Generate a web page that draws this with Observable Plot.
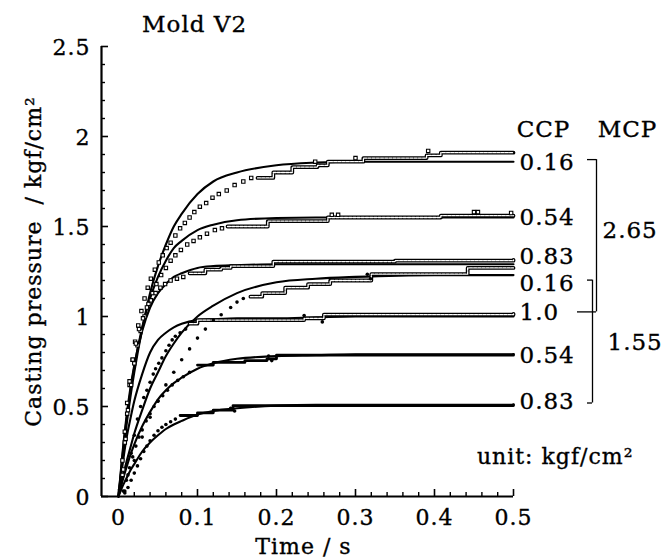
<!DOCTYPE html>
<html><head><meta charset="utf-8">
<script src="https://cdn.jsdelivr.net/npm/d3@7"></script>
<script src="https://cdn.jsdelivr.net/npm/@observablehq/plot@0.6"></script>
<style>
html,body{margin:0;padding:0;background:#fff;}
svg{display:block;}
svg text{letter-spacing:1px;stroke:black;stroke-width:0.35px;}
</style>
</head><body><div id="chart"></div>
<script>
// ---- axis ticks ----
const xMajor = [0, 0.1, 0.2, 0.3, 0.4, 0.5];
const xLabels = ["0", "0.1", "0.2", "0.3", "0.4", "0.5"];
const xMinor = [0.02,0.04,0.06,0.08,0.12,0.14,0.16,0.18,0.22,0.24,0.26,0.28,0.32,0.34,0.36,0.38,0.42,0.44,0.46,0.48];
const yMajor = [0, 0.5, 1, 1.5, 2, 2.5];
const yLabels = ["0", "0.5", "1", "1.5", "2", "2.5"];
const yMinor = [0.1,0.2,0.3,0.4,0.6,0.7,0.8,0.9,1.1,1.2,1.3,1.4,1.6,1.7,1.8,1.9,2.1,2.2,2.3,2.4];

// ---- calculated curves (solid lines) ----
const fitTimes = [0, 0.005, 0.01, 0.015, 0.02, 0.03, 0.04, 0.05, 0.06, 0.07, 0.08, 0.1, 0.12, 0.15, 0.2, 0.25, 0.3, 0.4, 0.5];
const fitA = [0, 0.20, 0.39, 0.55, 0.69, 0.93, 1.13, 1.28, 1.40, 1.50, 1.57, 1.68, 1.75, 1.80, 1.84, 1.855, 1.86, 1.86, 1.86];
const fitB = [0, 0.22, 0.42, 0.58, 0.72, 0.94, 1.10, 1.22, 1.31, 1.38, 1.42, 1.48, 1.51, 1.535, 1.547, 1.55, 1.55, 1.55, 1.55];
const fitC = [0, 0.24, 0.44, 0.60, 0.73, 0.92, 1.05, 1.13, 1.18, 1.22, 1.24, 1.27, 1.28, 1.285, 1.29, 1.29, 1.29, 1.29, 1.29];
const fitD = [0, 0.10, 0.19, 0.27, 0.35, 0.48, 0.60, 0.69, 0.78, 0.85, 0.91, 1.00, 1.06, 1.13, 1.19, 1.21, 1.22, 1.23, 1.23];
const fitE = [0, 0.17, 0.32, 0.43, 0.53, 0.68, 0.80, 0.87, 0.91, 0.94, 0.96, 0.98, 0.985, 0.99, 0.99, 0.995, 1.0, 1.0, 1.0];
const fitF = [0, 0.085, 0.16, 0.23, 0.29, 0.39, 0.47, 0.54, 0.59, 0.63, 0.66, 0.71, 0.74, 0.765, 0.78, 0.785, 0.79, 0.79, 0.79];
const fitG = [0, 0.055, 0.10, 0.145, 0.18, 0.25, 0.30, 0.34, 0.375, 0.40, 0.42, 0.455, 0.475, 0.49, 0.505, 0.51, 0.51, 0.51, 0.51];

// ---- measured data: rising points and plateau steps [time, pressure] ----
const dotsA = [[0.005,0.12],[0.008,0.30],[0.011,0.46],[0.014,0.62],[0.018,0.76],[0.021,0.86],[0.025,0.95],[0.029,1.03],[0.033,1.10],[0.037,1.16],[0.041,1.21],[0.046,1.26],[0.051,1.30],[0.056,1.34],[0.061,1.38],[0.066,1.41],[0.072,1.45],[0.078,1.49],[0.084,1.52],[0.090,1.55],[0.096,1.58],[0.103,1.61],[0.111,1.63],[0.119,1.66],[0.127,1.68],[0.137,1.70],[0.147,1.73],[0.158,1.75],[0.168,1.77],[0.249,1.86],[0.30,1.88],[0.392,1.92]];
const stepsA = [[0.176,1.77],[0.196,1.80],[0.22,1.83],[0.252,1.84],[0.265,1.86],[0.31,1.88],[0.39,1.895],[0.408,1.91],[0.5,1.91]];
const dotsB = [[0.006,0.15],[0.009,0.32],[0.012,0.48],[0.016,0.62],[0.020,0.74],[0.024,0.84],[0.028,0.92],[0.033,1.00],[0.038,1.07],[0.043,1.13],[0.048,1.18],[0.054,1.23],[0.060,1.27],[0.066,1.31],[0.072,1.34],[0.079,1.37],[0.087,1.40],[0.095,1.42],[0.103,1.44],[0.112,1.46],[0.122,1.48],[0.131,1.49],[0.27,1.565],[0.278,1.565],[0.45,1.58],[0.455,1.58],[0.497,1.575]];
const stepsB = [[0.138,1.50],[0.189,1.53],[0.265,1.55],[0.408,1.56],[0.5,1.56]];
const dotsC = [[0.005,0.20],[0.008,0.36],[0.011,0.52],[0.014,0.64],[0.018,0.76],[0.022,0.85],[0.026,0.93],[0.031,0.99],[0.036,1.05],[0.041,1.09],[0.047,1.13],[0.053,1.16],[0.059,1.18],[0.066,1.20],[0.074,1.21],[0.082,1.22]];
const stepsC = [[0.09,1.24],[0.11,1.26],[0.13,1.27],[0.142,1.28],[0.196,1.305],[0.35,1.31],[0.5,1.315]];
const dotsD = [[0.02,0.20],[0.03,0.33],[0.04,0.44],[0.05,0.53],[0.06,0.62],[0.07,0.69],[0.08,0.76],[0.09,0.82],[0.10,0.88],[0.11,0.93],[0.12,0.98],[0.13,1.01],[0.142,1.05],[0.15,1.08],[0.158,1.10],[0.315,1.235],[0.319,1.21]];
const stepsD = [[0.167,1.11],[0.182,1.13],[0.211,1.16],[0.24,1.18],[0.268,1.20],[0.32,1.235],[0.442,1.27],[0.5,1.27]];
const dotsE = [[0.008,0.03],[0.012,0.12],[0.016,0.24],[0.020,0.34],[0.024,0.43],[0.028,0.50],[0.032,0.55],[0.036,0.59],[0.040,0.635],[0.044,0.68],[0.047,0.71],[0.051,0.74],[0.055,0.77],[0.060,0.81],[0.064,0.84],[0.068,0.87],[0.072,0.89],[0.078,0.91],[0.085,0.93],[0.235,1.005],[0.258,0.97]];
const stepsE = [[0.09,0.96],[0.1,0.98],[0.235,0.99],[0.26,1.01],[0.5,1.015]];
const dotsF = [[0.006,0.03],[0.010,0.09],[0.014,0.16],[0.018,0.22],[0.022,0.28],[0.026,0.33],[0.030,0.37],[0.035,0.42],[0.040,0.46],[0.045,0.50],[0.050,0.53],[0.056,0.56],[0.062,0.59],[0.068,0.62],[0.075,0.645],[0.082,0.665],[0.090,0.69],[0.19,0.78],[0.194,0.755]];
const stepsF = [[0.1,0.73],[0.12,0.745],[0.16,0.755],[0.188,0.765],[0.2,0.785],[0.5,0.79]];
const dotsG = [[0.008,0.02],[0.012,0.05],[0.016,0.09],[0.020,0.13],[0.024,0.17],[0.028,0.21],[0.032,0.25],[0.036,0.28],[0.040,0.31],[0.045,0.34],[0.050,0.365],[0.055,0.385],[0.060,0.40],[0.066,0.415],[0.072,0.43],[0.142,0.49],[0.147,0.475]];
const stepsG = [[0.078,0.45],[0.1,0.465],[0.12,0.48],[0.145,0.505],[0.5,0.51]];

// ---- right-hand labels ----
const ccpLabels = ["0.16", "0.54", "0.83", "0.16", "1.0", "0.54", "0.83"];
const labelY = [1.855, 1.55, 1.33, 1.18, 1.02, 0.78, 0.525];
const mcpLabels = ["2.65", "1.55"];

const xDomain = [-0.0215, 0.5];
const FONT = "DejaVu Serif";

const fits = [fitA, fitB, fitC, fitD, fitE, fitF, fitG];
const fitMarks = fits.map(vals => Plot.line(fitTimes.map((t, i) => [t, vals[i]]), {
  x: d => d[0], y: d => d[1], curve: "monotone-x", stroke: "black", strokeWidth: 2.1
}));

function chain(steps, solid) {
  const marks = [Plot.line(steps, {x: d => d[0], y: d => d[1], curve: "step-after", stroke: "black", strokeWidth: solid ? 2.8 : 3.8})];
  if (!solid) marks.push(Plot.line(steps, {x: d => d[0], y: d => d[1], curve: "step-after", stroke: "white", strokeWidth: 1.3, strokeDasharray: "3,1.2"}));
  return marks;
}
function openDots(data) {
  return Plot.dot(data, {x: d => d[0], y: d => d[1], symbol: "square", r: 1.9, stroke: "black", strokeWidth: 1.1, fill: "white"});
}
function fullDots(data) {
  return Plot.dot(data, {x: d => d[0], y: d => d[1], r: 1.8, fill: "black"});
}

const plot = Plot.plot({
  width: 662, height: 557,
  marginLeft: 101, marginRight: 149, marginTop: 46, marginBottom: 61,
  x: {domain: xDomain, axis: null},
  y: {domain: [0, 2.5], axis: null},
  style: {fontFamily: FONT, background: "white", overflow: "visible", color: "black"},
  marks: [
    ...fitMarks,
    ...chain(stepsA), ...chain(stepsB), ...chain(stepsC), ...chain(stepsD), ...chain(stepsE),
    ...chain(stepsF, true), ...chain(stepsG, true),
    openDots(dotsA), openDots(dotsB), openDots(dotsC),
    fullDots(dotsD), fullDots(dotsE), fullDots(dotsF), fullDots(dotsG),
    // axes lines
    Plot.ruleY([0], {stroke: "black", strokeWidth: 2.2}),
    Plot.ruleX([xDomain[0]], {stroke: "black", strokeWidth: 2.2}),
    // ticks (inward)
    Plot.tickX(xMajor, {x: d => d, insetTop: 443, stroke: "black", strokeWidth: 1.6}),
    Plot.tickX(xMinor, {x: d => d, insetTop: 446, stroke: "black", strokeWidth: 1.4}),
    Plot.tickY(yMajor, {y: d => d, insetRight: 405, stroke: "black", strokeWidth: 1.6}),
    Plot.tickY(yMinor, {y: d => d, insetRight: 408, stroke: "black", strokeWidth: 1.4}),
    // tick labels
    Plot.text(xMajor, {x: d => d, y: 0, text: (d, i) => xLabels[i], dy: 21, fontSize: 22, lineAnchor: "middle", textAnchor: "middle", fill: "black"}),
    Plot.text(yMajor, {y: d => d, frameAnchor: "left", text: (d, i) => yLabels[i], dx: -11, dy: 1, textAnchor: "end", fontSize: 22, lineAnchor: "middle", fill: "black"}),
    // axis titles
    Plot.text(["Casting pressure  / kgf/cm²"], {frameAnchor: "left", dx: -68, dy: -10, rotate: -90, fontSize: 22, lineAnchor: "middle", textAnchor: "middle", fill: "black"}),
    Plot.text(["Time / s"], {frameAnchor: "bottom", dx: -4, dy: 50, fontSize: 22, lineAnchor: "middle", textAnchor: "middle", fill: "black"}),
    Plot.text(["Mold V2"], {frameAnchor: "top-left", dx: 93, dy: -22, fontSize: 23, lineAnchor: "middle", textAnchor: "middle", fill: "black"}),
    // legend headers
    Plot.text(["CCP"], {frameAnchor: "top-right", dx: 30, dy: 83, fontSize: 23, lineAnchor: "middle", textAnchor: "middle", fill: "black"}),
    Plot.text(["MCP"], {frameAnchor: "top-right", dx: 114, dy: 83, fontSize: 23, lineAnchor: "middle", textAnchor: "middle", fill: "black"}),
    Plot.text(ccpLabels, {x: 0.5, y: (d, i) => labelY[i], text: d => d, dx: 6, textAnchor: "start", fontSize: 23, lineAnchor: "middle", fill: "black"}),
    // bracket 2.65
    Plot.ruleY([labelY[0]], {y: d => d, x1: 0.5, x2: 0.5, insetLeft: 74, insetRight: -83, dy: -3, stroke: "black", strokeWidth: 1.3}),
    Plot.ruleY([labelY[4]], {y: d => d, x1: 0.5, x2: 0.5, insetLeft: 64, insetRight: -83, dy: -1, stroke: "black", strokeWidth: 1.3}),
    Plot.ruleX([0.5], {x: d => d, y1: labelY[0], y2: labelY[4], dx: 83, insetTop: -3, insetBottom: 1, stroke: "black", strokeWidth: 1.3}),
    Plot.text([mcpLabels[0]], {x: 0.5, y: (labelY[0] + labelY[4]) / 2, dx: 89, dy: -7, textAnchor: "start", fontSize: 23, lineAnchor: "middle", fill: "black"}),
    // bracket 1.55
    Plot.ruleY([labelY[3]], {y: d => d, x1: 0.5, x2: 0.5, insetLeft: 74, insetRight: -79, dy: -4, stroke: "black", strokeWidth: 1.3}),
    Plot.ruleY([labelY[6]], {y: d => d, x1: 0.5, x2: 0.5, insetLeft: 74, insetRight: -79, dy: 1, stroke: "black", strokeWidth: 1.3}),
    Plot.ruleX([0.5], {x: d => d, y1: labelY[3], y2: labelY[6], dx: 79, insetTop: -4, insetBottom: -1, stroke: "black", strokeWidth: 1.3}),
    Plot.text([mcpLabels[1]], {x: 0.5, y: (labelY[3] + labelY[6]) / 2, dx: 94, textAnchor: "start", fontSize: 23, lineAnchor: "middle", fill: "black"}),
    // unit
    Plot.text(["unit: kgf/cm²"], {frameAnchor: "bottom-right", dx: 120, dy: -40, textAnchor: "end", fontSize: 22, lineAnchor: "middle", fill: "black"})
  ]
});
document.getElementById("chart").appendChild(plot);
</script>
</body></html>
